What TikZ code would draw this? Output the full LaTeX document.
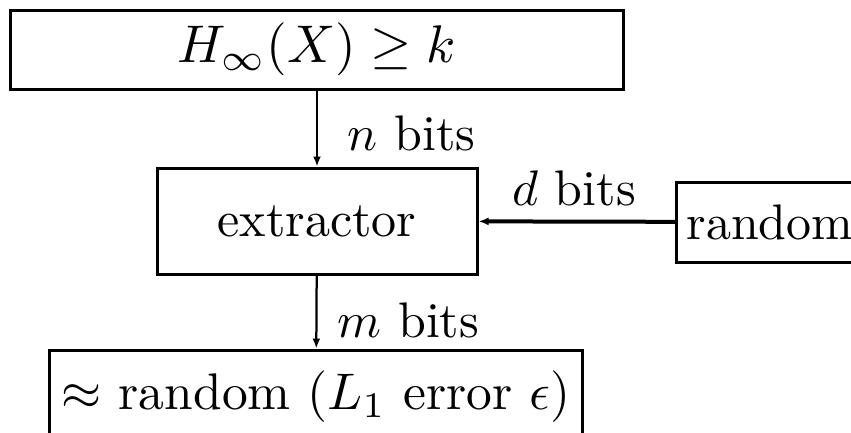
\documentclass[tikz,border=0pt]{standalone}
\usetikzlibrary{positioning,arrows.meta}
\usepackage{amsmath}
\usepackage{amssymb}
\begin{document}
\begin{tikzpicture}[x=0.2pt,y=-0.2pt,
        box/.style={draw,line width=0.6pt,inner sep=0pt},
        flow/.style={-{Latex[length=2pt,width=1.6pt]},line width=0.45pt}]
        \useasboundingbox (0,0) rectangle (851,432);
        \node[box,minimum width=122.4pt,minimum height=15.8pt] (source) at (317,49.5) {\scalebox{1.06}{$H_\infty(X) \geq k$}};
        \node[box,minimum width=64pt,minimum height=21.2pt] (extractor) at (317,221) {extractor};
        \node[box,anchor=west,inner xsep=2pt,minimum height=16pt] (seed) at (675,222) {random};
        \node[box,minimum width=106.4pt,minimum height=18.8pt] (output) at (316,397) {\scalebox{1.03}{$\approx$ random ($L_1$ error $\epsilon$)}};
        \draw[flow] (source) -- (extractor);
        \draw[flow,line width=0.8pt] (seed) -- (extractor);
        \draw[flow] (extractor) -- (output);
        \node[anchor=west] (nbits) at (330,133) {$n$ bits};
        \node (dbits) at (574,188) {$d$ bits};
        \node[anchor=west] (mbits) at (320,320) {$m$ bits};
    \end{tikzpicture}
\end{document}
